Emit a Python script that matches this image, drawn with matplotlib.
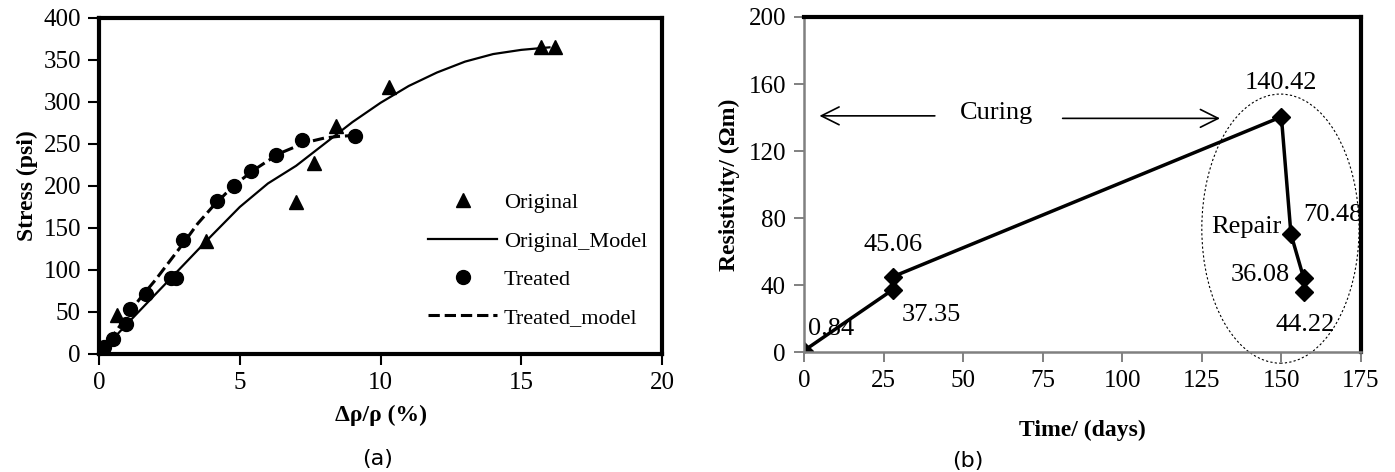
import numpy as np
import matplotlib.pyplot as plt
from matplotlib.patches import Ellipse

plt.rcParams['font.family'] = ['Liberation Serif', 'DejaVu Serif']

# ---- panel (a) data
orig_x = [0, 0.63, 3.8, 7.0, 7.64, 8.43, 10.3, 15.7, 16.2]
orig_y = [0, 46, 135, 181, 227, 271, 318, 365, 365]
treat_x = [0, 0.19, 0.5, 0.95, 1.1, 1.66, 2.54, 2.73, 3.0, 4.2, 4.79, 5.39, 6.29, 7.2, 9.1]
treat_y = [0, 8, 18, 36, 54, 72, 91, 91, 136, 182, 200, 218, 237, 255, 260]
orig_model_x = [0, 1, 2, 3, 4, 5, 6, 7, 8, 9, 10, 11, 12, 13, 14, 15, 16]
orig_model_y = [0, 36, 71, 106, 141, 175, 203, 224, 250, 276, 299, 319, 335, 348, 357, 362, 365]
treat_model_x = [0, 0.5, 1.0, 1.5, 2.0, 2.5, 3.0, 3.5, 4.0, 4.5, 5.0, 5.5, 6.0, 6.5, 7.0, 7.5, 8.0, 8.5, 9.0]
treat_model_y = [0, 22, 46, 68, 88, 110, 132, 155, 174, 191, 206, 219, 230, 240, 247, 253, 257, 259, 260]

# ---- panel (b) data
days = [0, 28, 28, 150, 153, 157, 157]
resist = [0.84, 37.35, 45.06, 140.42, 70.48, 44.22, 36.08]
lbl_text = ["0.84", "37.35", "45.06", "140.42", "70.48", "36.08", "44.22"]
lbl_x = [8.4, 40, 28, 150, 166.2, 143.3, 157.4]
lbl_y = [14, 22, 64, 160.6, 81.8, 46, 16]

fig = plt.figure(figsize=(13.95, 4.72), dpi=100)

# ------------- (a)
ax1 = fig.add_axes([0.071, 0.25, 0.4036, 0.712])
ax1.plot(orig_x, orig_y, '^', color='black', ms=10, label='Original')
ax1.plot(orig_model_x, orig_model_y, '-', color='black', lw=1.6, label='Original_Model')
ax1.plot(treat_x, treat_y, 'o', color='black', ms=10, label='Treated')
ax1.plot(treat_model_x, treat_model_y, '--', color='black', lw=2.2, label='Treated_model')
ax1.set_xlim(0, 20)
ax1.set_ylim(0, 400)
ax1.set_xticks(range(0, 21, 5))
ax1.set_yticks(range(0, 401, 50))
for s in ax1.spines.values():
    s.set_linewidth(3)
ax1.tick_params(labelsize=18, width=1.5, length=8, pad=5)
ax1.set_xlabel('Δρ/ρ (%)', fontsize=17, fontweight='bold', labelpad=8)
ax1.set_ylabel('Stress (psi)', fontsize=17, fontweight='bold', labelpad=4)
ax1.legend(loc='upper left', bbox_to_anchor=(0.585, 0.48), frameon=False, fontsize=16,
           labelspacing=0.8, handlelength=3.1, handletextpad=0.3, borderpad=0, borderaxespad=0)
fig.text(0.271, 0.015, '(a)', fontsize=16, family='DejaVu Sans', ha='center')

# ------------- (b)
ax2 = fig.add_axes([0.5763, 0.254, 0.3993, 0.71])
ax2.plot(days, resist, '-D', color='black', lw=2.5, ms=9)
for t, x, y in zip(lbl_text, lbl_x, lbl_y):
    ax2.text(x, y, t, fontsize=19, ha='center', va='center')
ax2.text(139.1, 74.8, 'Repair', fontsize=19, ha='center', va='center')
ax2.text(60.5, 143, 'Curing', fontsize=19, ha='center', va='center')
ax2.annotate('', xy=(4.0, 141), xytext=(42, 141),
             arrowprops=dict(arrowstyle='->', lw=1.2, mutation_scale=32, color='black'))
ax2.annotate('', xy=(131.6, 139.5), xytext=(80.4, 139.5),
             arrowprops=dict(arrowstyle='->', lw=1.2, mutation_scale=32, color='black'))
ax2.add_patch(Ellipse((149.7, 73.7), 49.4, 160.6, fill=False, ls=(0, (2, 2)), lw=0.8,
                      color='black', clip_on=False))
ax2.set_xlim(0, 175)
ax2.set_ylim(0, 200)
ax2.set_xticks(range(0, 176, 25))
ax2.set_yticks(range(0, 201, 40))
ax2.spines['top'].set_linewidth(3)
ax2.spines['right'].set_linewidth(3)
ax2.spines['left'].set_color('#808080')
ax2.spines['bottom'].set_color('#808080')
ax2.spines['left'].set_linewidth(1.8)
ax2.spines['bottom'].set_linewidth(1.8)
ax2.tick_params(labelsize=18, width=1.4, length=7, color='#808080', pad=6)
ax2.set_xlabel('Time/ (days)', fontsize=17, fontweight='bold', labelpad=20)
ax2.set_ylabel('Resistivity/ (Ωm)', fontsize=17, fontweight='bold', labelpad=6)
fig.text(0.694, 0.01, '(b)', fontsize=16, family='DejaVu Sans', ha='center')

fig.savefig('out.png', dpi=100)
